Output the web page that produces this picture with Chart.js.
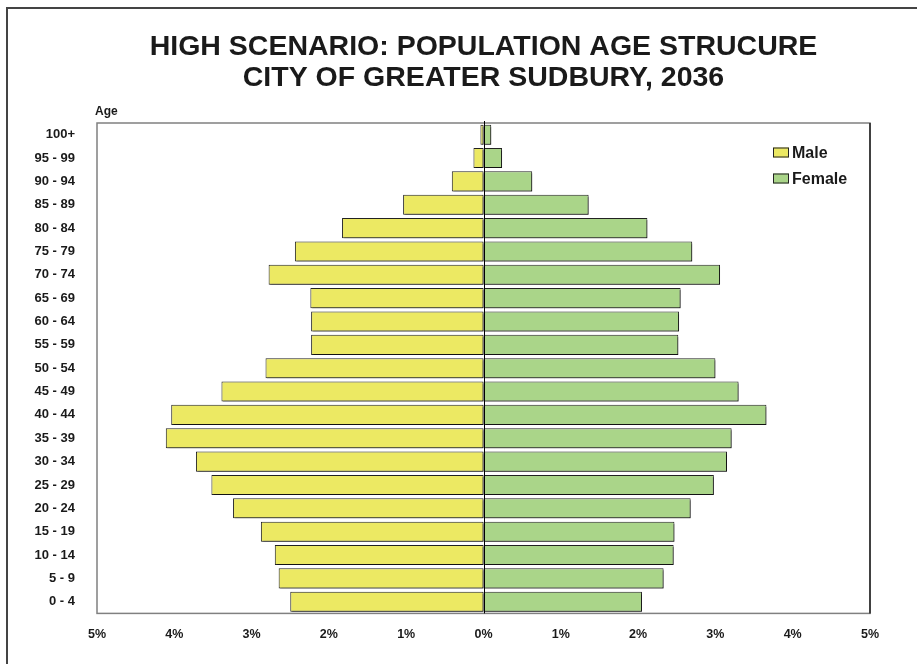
<!DOCTYPE html>
<html>
<head>
<meta charset="utf-8">
<script src="https://cdn.jsdelivr.net/npm/chart.js@4.4.1/dist/chart.umd.min.js"></script>
<style>
    html, body { margin: 0; padding: 0; background: #fff; }
    #chart-wrap { width: 917px; height: 664px; }
</style>
</head>
<body>
<div id="chart-wrap"><canvas id="pyramid" width="917" height="664"></canvas></div>
<script>
// Age groups, top to bottom
const ageGroups = ['100+', '95 - 99', '90 - 94', '85 - 89', '80 - 84', '75 - 79', '70 - 74',
    '65 - 69', '60 - 64', '55 - 59', '50 - 54', '45 - 49', '40 - 44', '35 - 39', '30 - 34',
    '25 - 29', '20 - 24', '15 - 19', '10 - 14', '5 - 9', '0 - 4'];

// Share of total population (%)
const malePct = [0.04, 0.13, 0.41, 1.04, 1.83, 2.44, 2.78, 2.24, 2.23, 2.23, 2.82,
    3.39, 4.04, 4.11, 3.72, 3.52, 3.24, 2.88, 2.70, 2.65, 2.50];
const femalePct = [0.10, 0.24, 0.63, 1.36, 2.12, 2.70, 3.06, 2.55, 2.53, 2.52, 3.00,
    3.30, 3.66, 3.21, 3.15, 2.98, 2.68, 2.47, 2.46, 2.33, 2.05];

// x axis ticks (percent, both sides)
const xTickValues = [-5, -4, -3, -2, -1, 0, 1, 2, 3, 4, 5];

const titleLines = ['HIGH SCENARIO: POPULATION AGE STRUCURE', 'CITY OF GREATER SUDBURY, 2036'];

const textColor = '#1a1a1a';
const fontFamily = 'Arial, "Liberation Sans", Helvetica, sans-serif';

// Outer frame, plot box, zero line, "Age" label and legend
const decorPlugin = {
    id: 'decor',
    beforeDraw(chart) {
        const ctx = chart.ctx;
        ctx.save();
        ctx.strokeStyle = '#444';
        ctx.lineWidth = 2;
        ctx.beginPath();
        ctx.moveTo(7, 664);
        ctx.lineTo(7, 8);
        ctx.lineTo(917, 8);
        ctx.stroke();
        ctx.restore();
    },
    beforeDatasetsDraw(chart) {
        const ctx = chart.ctx;
        ctx.save();
        ctx.shadowColor = 'rgba(0,0,0,0.45)';
        ctx.shadowOffsetX = 1.5;
        ctx.shadowOffsetY = 2;
        ctx.shadowBlur = 0;
    },
    afterDatasetsDraw(chart) {
        const ctx = chart.ctx;
        ctx.restore();
        const area = chart.chartArea;

        // plot border
        ctx.save();
        ctx.strokeStyle = '#808080';
        ctx.lineWidth = 1.5;
        ctx.strokeRect(area.left, area.top, area.right - area.left, area.bottom - area.top);
        ctx.strokeStyle = '#222';
        ctx.beginPath();
        ctx.moveTo(area.right, area.top);
        ctx.lineTo(area.right, area.bottom);
        ctx.stroke();

        // zero line
        const x0 = Math.round(chart.scales.x.getPixelForValue(0)) + 0.5;
        ctx.strokeStyle = '#000';
        ctx.lineWidth = 1;
        ctx.beginPath();
        ctx.moveTo(x0, area.top - 2);
        ctx.lineTo(x0, area.bottom);
        ctx.stroke();
        ctx.restore();
    },
    afterDraw(chart) {
        const ctx = chart.ctx;
        const area = chart.chartArea;
        ctx.save();
        ctx.fillStyle = textColor;
        ctx.font = 'bold 12px ' + fontFamily;
        ctx.textBaseline = 'middle';
        ctx.textAlign = 'left';
        ctx.fillText('Age', area.left - 2, area.top - 11);

        // legend
        ctx.font = 'bold 16px ' + fontFamily;
        chart.data.datasets.forEach((ds, i) => {
            const bx = area.right - 97;
            const cy = area.top + 29.5 + i * 26;
            ctx.fillStyle = ds.backgroundColor;
            ctx.fillRect(bx, cy - 5, 16, 10);
            ctx.strokeStyle = '#222';
            ctx.lineWidth = 1;
            ctx.strokeRect(bx + 0.5, cy - 4.5, 15, 9);
            ctx.fillStyle = textColor;
            ctx.fillText(ds.label, bx + 19, cy + 1);
        });
        ctx.restore();
    }
};

document.addEventListener('DOMContentLoaded', function() {
    const ctx = document.getElementById('pyramid').getContext('2d');
    new Chart(ctx, {
        type: 'bar',
        data: {
            labels: ageGroups,
            datasets: [{
                label: 'Male',
                data: malePct.map(v => -v),
                backgroundColor: '#ECE963',
                borderColor: '#222',
                borderWidth: 1,
                borderSkipped: false
            }, {
                label: 'Female',
                data: femalePct,
                backgroundColor: '#AAD589',
                borderColor: '#222',
                borderWidth: 1,
                borderSkipped: false
            }]
        },
        options: {
            indexAxis: 'y',
            responsive: false,
            animation: false,
            categoryPercentage: 0.86,
            barPercentage: 1.0,
            layout: {
                padding: { left: 0, right: 47, top: 0, bottom: 7.6 }
            },
            plugins: {
                legend: { display: false },
                tooltip: { enabled: false },
                title: {
                    display: true,
                    text: titleLines,
                    fullSize: false,
                    color: textColor,
                    font: { family: fontFamily, size: 28.5, weight: 'bold', lineHeight: 31 / 28.5 },
                    padding: { top: 31.5, bottom: 29.5 }
                }
            },
            scales: {
                x: {
                    stacked: true,
                    min: -5,
                    max: 5,
                    afterBuildTicks: scale => {
                        scale.ticks = xTickValues.map(v => ({ value: v }));
                    },
                    ticks: {
                        color: textColor,
                        font: { family: fontFamily, size: 12.5, weight: 'bold' },
                        padding: 14,
                        maxRotation: 0,
                        callback: value => Math.abs(value) + '%'
                    },
                    grid: { display: false, drawTicks: false },
                    border: { display: false }
                },
                y: {
                    stacked: true,
                    afterFit: scale => { scale.width = 97; },
                    ticks: {
                        color: textColor,
                        font: { family: fontFamily, size: 13, weight: 'bold' },
                        padding: 22
                    },
                    grid: { display: false, drawTicks: false },
                    border: { display: false }
                }
            }
        },
        plugins: [decorPlugin]
    });
});
</script>
</body>
</html>
